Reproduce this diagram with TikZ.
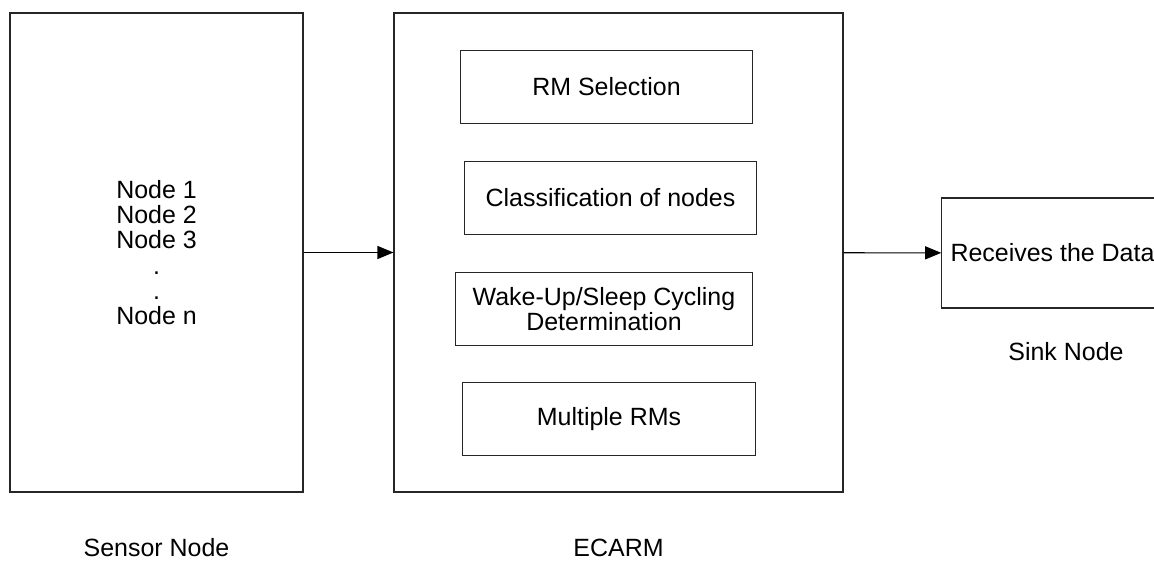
\documentclass[tikz,border=0pt]{standalone}
\usepackage{fontspec}
\setmainfont{Liberation Sans}
\usetikzlibrary{arrows.meta,positioning}

\begin{document}
\begin{tikzpicture}[every node/.style={font=\fontsize{14.2}{14.4}\selectfont}, >={Triangle[length=0.32cm,width=0.26cm]}, line width=0.6pt]
		\tikzstyle{block} = [rectangle, draw=black!85, align=center, inner sep=0pt]
		\tikzstyle{unit} = [block, minimum width=5.85cm, minimum height=1.45cm]
		\tikzstyle{caption} = [inner sep=0pt]
		
		\useasboundingbox (0,0) rectangle (23.08,-11.24);
		
		\node[block, minimum width=5.86cm, minimum height=9.58cm] (sensor) at (3.13,-5.05) {Node 1\\Node 2\\Node 3\\.\\.\\Node n};
		\node[block, minimum width=8.98cm, minimum height=9.58cm] (ecarm) at (12.37,-5.05) {};
		\node[block, minimum width=4.43cm, minimum height=2.2cm] (sink) at (21.05,-5.06) {Receives the Data};
		
		\node[unit, minimum width=5.83cm] (select) at (12.13,-1.74) {RM Selection};
		\node[unit] (classify) at (12.21,-3.96) {Classification of nodes};
		\node[unit, minimum width=5.93cm, minimum height=1.47cm] (cycling) at (12.08,-6.18) {Wake-Up/Sleep Cycling\\Determination};
		\node[unit] (multiple) at (12.18,-8.38) {Multiple RMs};
		
		\node[caption] (sensorlabel) at (3.13,-10.96) {Sensor Node};
		\node[caption] (ecarmlabel) at (12.37,-10.96) {ECARM};
		\node[caption] (sinklabel) at (21.32,-7.04) {Sink Node};
		
		\draw[->] (sensor) -- (ecarm);
		\draw[->] (ecarm) -- (sink);
	\end{tikzpicture}
\end{document}
